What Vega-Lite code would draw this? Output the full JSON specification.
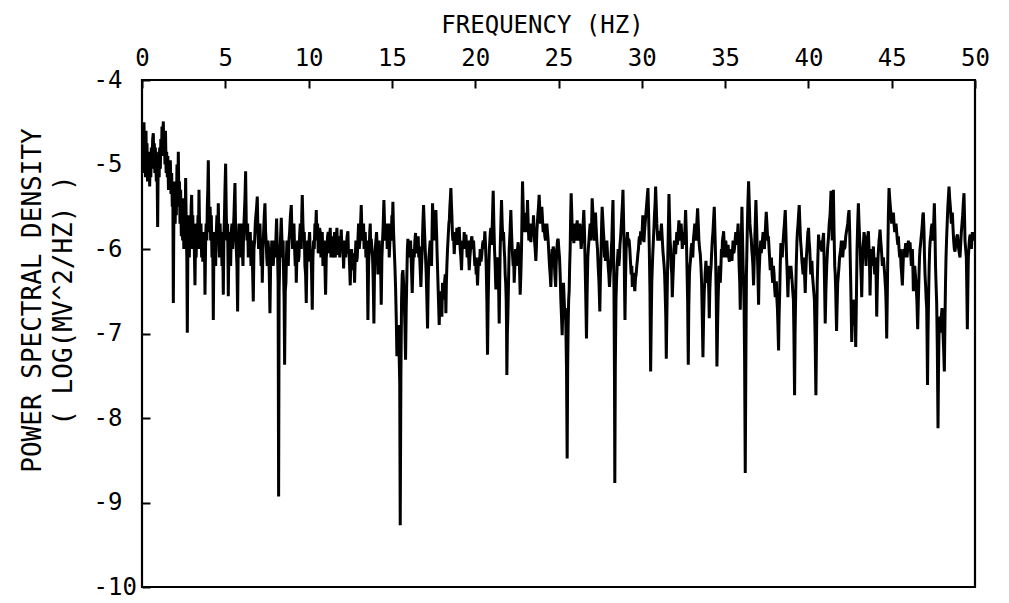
{
  "$schema": "https://vega.github.io/schema/vega-lite/v6.json",
  "width": 833,
  "height": 507,
  "autosize": {"type": "none"},
  "padding": {"left": 142, "top": 80, "right": 34, "bottom": 16},
  "background": "white",
  "config": {
    "view": {"stroke": "black", "strokeWidth": 2.2},
    "font": "DejaVu Sans Mono"
  },
  "data": {
    "values": [
      {"f":0.00,"p":-4.55},{"f":0.03,"p":-5.05},{"f":0.06,"p":-4.6},{"f":0.09,"p":-5.1},{"f":0.12,"p":-4.5},{"f":0.15,"p":-4.95},
      {"f":0.18,"p":-4.7},{"f":0.21,"p":-5.15},{"f":0.24,"p":-4.6},{"f":0.27,"p":-5.1},{"f":0.30,"p":-4.75},{"f":0.33,"p":-5.2},
      {"f":0.36,"p":-4.85},{"f":0.40,"p":-5.15},{"f":0.43,"p":-4.9},{"f":0.46,"p":-5.26},{"f":0.50,"p":-4.85},{"f":0.53,"p":-5.15},
      {"f":0.56,"p":-4.8},{"f":0.60,"p":-5.05},{"f":0.64,"p":-4.7},{"f":0.68,"p":-4.63},{"f":0.71,"p":-5.0},{"f":0.74,"p":-4.75},
      {"f":0.77,"p":-5.1},{"f":0.80,"p":-4.8},{"f":0.83,"p":-5.0},{"f":0.86,"p":-5.2},{"f":0.90,"p":-4.95},{"f":0.94,"p":-5.74},
      {"f":0.97,"p":-5.0},{"f":1.00,"p":-4.85},{"f":1.03,"p":-5.15},{"f":1.06,"p":-4.8},{"f":1.10,"p":-5.05},{"f":1.13,"p":-4.7},
      {"f":1.17,"p":-4.9},{"f":1.20,"p":-4.55},{"f":1.24,"p":-4.7},{"f":1.28,"p":-4.49},{"f":1.31,"p":-4.9},{"f":1.34,"p":-4.65},
      {"f":1.38,"p":-5.0},{"f":1.41,"p":-4.6},{"f":1.45,"p":-5.1},{"f":1.48,"p":-4.85},{"f":1.52,"p":-5.15},{"f":1.55,"p":-4.9},
      {"f":1.59,"p":-5.3},{"f":1.62,"p":-5.0},{"f":1.66,"p":-5.25},{"f":1.70,"p":-4.95},{"f":1.74,"p":-5.35},{"f":1.78,"p":-5.1},
      {"f":1.82,"p":-5.5},{"f":1.85,"p":-5.2},{"f":1.88,"p":-6.64},{"f":1.92,"p":-5.4},{"f":1.95,"p":-5.2},{"f":1.99,"p":-5.7},
      {"f":2.02,"p":-5.3},{"f":2.06,"p":-5.6},{"f":2.10,"p":-5.0},{"f":2.14,"p":-5.5},{"f":2.18,"p":-4.85},{"f":2.21,"p":-5.4},
      {"f":2.25,"p":-5.2},{"f":2.28,"p":-5.7},{"f":2.32,"p":-5.3},{"f":2.36,"p":-5.85},{"f":2.40,"p":-5.5},{"f":2.44,"p":-5.9},
      {"f":2.47,"p":-5.4},{"f":2.51,"p":-6.0},{"f":2.55,"p":-5.6},{"f":2.58,"p":-5.9},{"f":2.62,"p":-5.16},{"f":2.66,"p":-5.8},
      {"f":2.69,"p":-6.1},{"f":2.72,"p":-6.99},{"f":2.76,"p":-5.8},{"f":2.80,"p":-5.6},{"f":2.84,"p":-6.1},{"f":2.88,"p":-5.7},
      {"f":2.92,"p":-6.0},{"f":2.95,"p":-5.5},{"f":2.98,"p":-5.36},{"f":3.02,"p":-5.9},{"f":3.05,"p":-5.6},{"f":3.09,"p":-6.0},
      {"f":3.12,"p":-5.7},{"f":3.15,"p":-6.1},{"f":3.18,"p":-6.43},{"f":3.22,"p":-5.8},{"f":3.25,"p":-6.1},{"f":3.29,"p":-5.7},
      {"f":3.32,"p":-6.0},{"f":3.36,"p":-5.6},{"f":3.39,"p":-5.9},{"f":3.42,"p":-5.3},{"f":3.46,"p":-5.8},{"f":3.50,"p":-6.0},
      {"f":3.54,"p":-5.7},{"f":3.58,"p":-6.1},{"f":3.62,"p":-5.8},{"f":3.65,"p":-6.15},{"f":3.69,"p":-5.8},{"f":3.72,"p":-6.0},
      {"f":3.75,"p":-5.9},{"f":3.78,"p":-6.54},{"f":3.82,"p":-5.9},{"f":3.85,"p":-5.7},{"f":3.89,"p":-5.9},{"f":3.92,"p":-5.5},
      {"f":3.95,"p":-5.3},{"f":3.98,"p":-4.95},{"f":4.02,"p":-5.6},{"f":4.05,"p":-5.8},{"f":4.09,"p":-5.5},{"f":4.12,"p":-5.9},
      {"f":4.16,"p":-5.6},{"f":4.20,"p":-6.1},{"f":4.24,"p":-5.8},{"f":4.28,"p":-6.84},{"f":4.32,"p":-5.9},{"f":4.35,"p":-6.1},
      {"f":4.39,"p":-5.8},{"f":4.42,"p":-6.2},{"f":4.46,"p":-5.8},{"f":4.50,"p":-5.6},{"f":4.54,"p":-5.9},{"f":4.58,"p":-5.46},
      {"f":4.62,"p":-5.9},{"f":4.65,"p":-6.1},{"f":4.69,"p":-5.7},{"f":4.72,"p":-6.0},{"f":4.76,"p":-5.8},{"f":4.80,"p":-6.2},
      {"f":4.84,"p":-5.9},{"f":4.88,"p":-6.54},{"f":4.92,"p":-5.8},{"f":4.95,"p":-5.6},{"f":4.98,"p":-5.3},{"f":5.02,"p":-4.99},
      {"f":5.06,"p":-5.6},{"f":5.10,"p":-5.9},{"f":5.14,"p":-5.7},{"f":5.18,"p":-6.56},{"f":5.22,"p":-5.9},{"f":5.25,"p":-6.1},
      {"f":5.29,"p":-5.8},{"f":5.32,"p":-6.2},{"f":5.36,"p":-5.8},{"f":5.40,"p":-5.7},{"f":5.44,"p":-6.0},{"f":5.48,"p":-5.8},
      {"f":5.52,"p":-5.6},{"f":5.55,"p":-5.4},{"f":5.58,"p":-5.22},{"f":5.62,"p":-5.8},{"f":5.66,"p":-6.0},{"f":5.70,"p":-6.2},
      {"f":5.74,"p":-6.74},{"f":5.78,"p":-5.9},{"f":5.82,"p":-5.7},{"f":5.86,"p":-6.0},{"f":5.90,"p":-5.8},{"f":5.94,"p":-6.1},
      {"f":5.98,"p":-5.7},{"f":6.02,"p":-6.0},{"f":6.06,"p":-6.2},{"f":6.10,"p":-5.8},{"f":6.14,"p":-5.6},{"f":6.18,"p":-5.4},
      {"f":6.22,"p":-5.08},{"f":6.26,"p":-5.7},{"f":6.30,"p":-5.9},{"f":6.34,"p":-5.7},{"f":6.38,"p":-6.1},{"f":6.42,"p":-5.8},
      {"f":6.46,"p":-6.0},{"f":6.50,"p":-5.8},{"f":6.54,"p":-6.2},{"f":6.58,"p":-5.9},{"f":6.62,"p":-6.1},{"f":6.68,"p":-6.62},
      {"f":6.72,"p":-6.0},{"f":6.76,"p":-5.9},{"f":6.80,"p":-5.7},{"f":6.84,"p":-5.6},{"f":6.88,"p":-5.5},{"f":6.92,"p":-5.38},
      {"f":6.96,"p":-5.8},{"f":7.00,"p":-6.0},{"f":7.04,"p":-5.8},{"f":7.08,"p":-5.7},{"f":7.12,"p":-6.0},{"f":7.15,"p":-6.2},
      {"f":7.19,"p":-5.9},{"f":7.22,"p":-6.4},{"f":7.26,"p":-6.0},{"f":7.30,"p":-5.8},{"f":7.34,"p":-5.6},{"f":7.38,"p":-5.46},
      {"f":7.42,"p":-5.8},{"f":7.45,"p":-5.9},{"f":7.49,"p":-6.1},{"f":7.52,"p":-6.2},{"f":7.56,"p":-5.9},{"f":7.60,"p":-6.0},
      {"f":7.64,"p":-6.3},{"f":7.68,"p":-6.76},{"f":7.72,"p":-6.2},{"f":7.76,"p":-6.1},{"f":7.79,"p":-5.9},{"f":7.82,"p":-5.97},
      {"f":7.85,"p":-6.1},{"f":7.88,"p":-6.2},{"f":7.92,"p":-6.0},{"f":7.95,"p":-5.9},{"f":7.98,"p":-6.1},{"f":8.02,"p":-6.0},
      {"f":8.05,"p":-5.8},{"f":8.08,"p":-5.64},{"f":8.11,"p":-5.9},{"f":8.14,"p":-6.1},{"f":8.17,"p":-6.4},{"f":8.20,"p":-8.93},
      {"f":8.23,"p":-6.5},{"f":8.26,"p":-6.2},{"f":8.31,"p":-5.9},{"f":8.36,"p":-5.63},{"f":8.40,"p":-5.9},{"f":8.44,"p":-6.1},
      {"f":8.47,"p":-5.9},{"f":8.50,"p":-6.3},{"f":8.53,"p":-6.6},{"f":8.56,"p":-7.37},{"f":8.60,"p":-6.5},{"f":8.64,"p":-6.4},
      {"f":8.67,"p":-6.1},{"f":8.70,"p":-5.9},{"f":8.74,"p":-6.1},{"f":8.78,"p":-6.2},{"f":8.82,"p":-5.9},{"f":8.86,"p":-5.8},
      {"f":8.91,"p":-5.6},{"f":8.96,"p":-5.48},{"f":9.00,"p":-5.8},{"f":9.04,"p":-6.0},{"f":9.08,"p":-5.8},{"f":9.12,"p":-5.7},
      {"f":9.16,"p":-6.0},{"f":9.20,"p":-6.2},{"f":9.23,"p":-6.0},{"f":9.26,"p":-6.4},{"f":9.30,"p":-6.1},{"f":9.34,"p":-5.9},
      {"f":9.38,"p":-6.15},{"f":9.42,"p":-6.1},{"f":9.46,"p":-5.85},{"f":9.50,"p":-5.7},{"f":9.53,"p":-5.9},{"f":9.56,"p":-6.0},
      {"f":9.59,"p":-5.6},{"f":9.62,"p":-5.36},{"f":9.66,"p":-5.7},{"f":9.70,"p":-5.9},{"f":9.74,"p":-5.8},{"f":9.78,"p":-6.2},
      {"f":9.82,"p":-6.3},{"f":9.86,"p":-6.64},{"f":9.90,"p":-6.1},{"f":9.94,"p":-5.9},{"f":9.97,"p":-6.15},{"f":10.00,"p":-6.1},
      {"f":10.03,"p":-5.9},{"f":10.06,"p":-5.8},{"f":10.10,"p":-6.05},{"f":10.14,"p":-6.0},{"f":10.18,"p":-6.3},{"f":10.22,"p":-6.72},
      {"f":10.26,"p":-6.1},{"f":10.30,"p":-5.9},{"f":10.34,"p":-6.0},{"f":10.38,"p":-5.7},{"f":10.42,"p":-5.8},{"f":10.46,"p":-5.54},
      {"f":10.50,"p":-5.9},{"f":10.54,"p":-5.7},{"f":10.58,"p":-6.05},{"f":10.62,"p":-6.0},{"f":10.66,"p":-5.75},{"f":10.70,"p":-5.8},
      {"f":10.74,"p":-6.1},{"f":10.78,"p":-5.97},{"f":10.82,"p":-5.8},{"f":10.86,"p":-6.2},{"f":10.90,"p":-5.95},{"f":10.94,"p":-5.9},
      {"f":10.98,"p":-6.2},{"f":11.02,"p":-6.54},{"f":11.06,"p":-6.1},{"f":11.10,"p":-6.0},{"f":11.14,"p":-5.85},{"f":11.18,"p":-5.8},
      {"f":11.22,"p":-6.05},{"f":11.26,"p":-5.88},{"f":11.30,"p":-5.75},{"f":11.34,"p":-6.1},{"f":11.38,"p":-5.95},{"f":11.42,"p":-5.85},
      {"f":11.46,"p":-6.1},{"f":11.50,"p":-6.05},{"f":11.53,"p":-5.9},{"f":11.56,"p":-5.8},{"f":11.60,"p":-6.1},{"f":11.64,"p":-6.0},
      {"f":11.67,"p":-5.85},{"f":11.70,"p":-5.75},{"f":11.73,"p":-5.95},{"f":11.76,"p":-6.07},{"f":11.80,"p":-5.85},{"f":11.84,"p":-5.9},
      {"f":11.87,"p":-6.1},{"f":11.90,"p":-6.0},{"f":11.93,"p":-5.9},{"f":11.96,"p":-5.77},{"f":12.00,"p":-6.0},{"f":12.04,"p":-5.9},
      {"f":12.07,"p":-6.0},{"f":12.10,"p":-6.23},{"f":12.14,"p":-6.0},{"f":12.18,"p":-5.9},{"f":12.22,"p":-6.1},{"f":12.26,"p":-6.0},
      {"f":12.31,"p":-5.85},{"f":12.36,"p":-5.79},{"f":12.39,"p":-6.05},{"f":12.42,"p":-6.0},{"f":12.46,"p":-6.2},{"f":12.50,"p":-6.43},
      {"f":12.54,"p":-6.1},{"f":12.58,"p":-6.0},{"f":12.62,"p":-6.25},{"f":12.66,"p":-6.2},{"f":12.71,"p":-6.05},{"f":12.76,"p":-6.4},
      {"f":12.80,"p":-6.1},{"f":12.84,"p":-5.9},{"f":12.88,"p":-6.15},{"f":12.92,"p":-6.1},{"f":12.96,"p":-5.9},{"f":13.00,"p":-5.7},
      {"f":13.04,"p":-6.0},{"f":13.08,"p":-5.9},{"f":13.12,"p":-5.7},{"f":13.16,"p":-5.48},{"f":13.20,"p":-5.8},{"f":13.24,"p":-5.9},
      {"f":13.27,"p":-5.75},{"f":13.30,"p":-5.7},{"f":13.33,"p":-6.0},{"f":13.36,"p":-5.93},{"f":13.40,"p":-5.8},{"f":13.44,"p":-6.1},
      {"f":13.47,"p":-6.0},{"f":13.50,"p":-5.9},{"f":13.53,"p":-6.3},{"f":13.56,"p":-6.84},{"f":13.60,"p":-6.2},{"f":13.64,"p":-6.0},
      {"f":13.67,"p":-5.8},{"f":13.70,"p":-5.7},{"f":13.73,"p":-6.0},{"f":13.76,"p":-5.88},{"f":13.80,"p":-6.0},{"f":13.84,"p":-6.1},
      {"f":13.88,"p":-6.4},{"f":13.92,"p":-6.88},{"f":13.96,"p":-6.2},{"f":14.00,"p":-6.0},{"f":14.04,"p":-5.9},{"f":14.08,"p":-5.8},
      {"f":14.12,"p":-6.0},{"f":14.16,"p":-6.3},{"f":14.20,"p":-6.0},{"f":14.24,"p":-5.9},{"f":14.27,"p":-6.2},{"f":14.30,"p":-6.1},
      {"f":14.33,"p":-6.3},{"f":14.36,"p":-6.66},{"f":14.40,"p":-6.1},{"f":14.44,"p":-5.9},{"f":14.48,"p":-5.7},{"f":14.52,"p":-5.42},
      {"f":14.56,"p":-5.7},{"f":14.60,"p":-5.9},{"f":14.64,"p":-5.75},{"f":14.68,"p":-5.7},{"f":14.72,"p":-6.0},{"f":14.76,"p":-5.88},
      {"f":14.80,"p":-5.7},{"f":14.84,"p":-6.1},{"f":14.88,"p":-5.9},{"f":14.92,"p":-5.8},{"f":14.96,"p":-5.9},{"f":15.00,"p":-5.6},
      {"f":15.03,"p":-5.7},{"f":15.06,"p":-5.44},{"f":15.10,"p":-5.8},{"f":15.14,"p":-6.0},{"f":15.18,"p":-6.2},{"f":15.22,"p":-6.45},
      {"f":15.26,"p":-6.8},{"f":15.30,"p":-7.27},{"f":15.33,"p":-7.0},{"f":15.36,"p":-7.2},{"f":15.40,"p":-6.9},{"f":15.44,"p":-7.3},
      {"f":15.47,"p":-7.6},{"f":15.50,"p":-9.27},{"f":15.54,"p":-7.5},{"f":15.58,"p":-6.6},{"f":15.62,"p":-6.3},{"f":15.66,"p":-6.25},
      {"f":15.70,"p":-6.4},{"f":15.74,"p":-6.6},{"f":15.78,"p":-6.9},{"f":15.82,"p":-7.31},{"f":15.86,"p":-6.7},{"f":15.90,"p":-6.3},
      {"f":15.93,"p":-6.0},{"f":15.96,"p":-5.88},{"f":16.00,"p":-6.0},{"f":16.04,"p":-6.1},{"f":16.08,"p":-5.95},{"f":16.12,"p":-5.9},
      {"f":16.17,"p":-6.2},{"f":16.22,"p":-6.52},{"f":16.26,"p":-6.2},{"f":16.30,"p":-6.0},{"f":16.34,"p":-6.1},{"f":16.38,"p":-5.9},
      {"f":16.42,"p":-5.81},{"f":16.46,"p":-6.05},{"f":16.50,"p":-6.0},{"f":16.54,"p":-5.9},{"f":16.58,"p":-5.85},{"f":16.61,"p":-6.1},
      {"f":16.64,"p":-5.97},{"f":16.69,"p":-6.2},{"f":16.74,"p":-6.45},{"f":16.78,"p":-6.2},{"f":16.82,"p":-6.0},{"f":16.86,"p":-5.7},
      {"f":16.90,"p":-5.48},{"f":16.94,"p":-5.7},{"f":16.98,"p":-5.9},{"f":17.02,"p":-6.1},{"f":17.06,"p":-6.3},{"f":17.10,"p":-6.6},
      {"f":17.14,"p":-6.94},{"f":17.18,"p":-6.4},{"f":17.22,"p":-6.1},{"f":17.26,"p":-6.0},{"f":17.30,"p":-5.9},{"f":17.34,"p":-6.1},
      {"f":17.38,"p":-6.2},{"f":17.41,"p":-5.8},{"f":17.44,"p":-5.46},{"f":17.48,"p":-5.7},{"f":17.52,"p":-5.9},{"f":17.55,"p":-5.7},
      {"f":17.58,"p":-5.6},{"f":17.61,"p":-5.75},{"f":17.64,"p":-5.54},{"f":17.68,"p":-5.8},{"f":17.72,"p":-6.1},{"f":17.75,"p":-6.3},
      {"f":17.78,"p":-6.5},{"f":17.81,"p":-6.7},{"f":17.84,"p":-6.9},{"f":17.88,"p":-6.6},{"f":17.92,"p":-6.5},{"f":17.96,"p":-6.7},
      {"f":18.00,"p":-6.8},{"f":18.04,"p":-6.4},{"f":18.08,"p":-6.5},{"f":18.12,"p":-6.6},{"f":18.16,"p":-6.4},{"f":18.20,"p":-6.3},
      {"f":18.24,"p":-6.76},{"f":18.27,"p":-6.4},{"f":18.30,"p":-6.2},{"f":18.34,"p":-6.0},{"f":18.38,"p":-5.85},{"f":18.42,"p":-5.7},
      {"f":18.45,"p":-5.65},{"f":18.48,"p":-5.5},{"f":18.51,"p":-5.4},{"f":18.54,"p":-5.28},{"f":18.57,"p":-5.45},{"f":18.60,"p":-5.6},
      {"f":18.63,"p":-5.8},{"f":18.66,"p":-5.9},{"f":18.70,"p":-5.8},{"f":18.74,"p":-6.06},{"f":18.78,"p":-5.9},{"f":18.82,"p":-5.8},
      {"f":18.86,"p":-5.9},{"f":18.90,"p":-5.75},{"f":18.93,"p":-5.95},{"f":18.96,"p":-5.9},{"f":19.00,"p":-5.8},{"f":19.04,"p":-5.74},
      {"f":19.07,"p":-5.9},{"f":19.10,"p":-6.0},{"f":19.14,"p":-6.1},{"f":19.18,"p":-6.25},{"f":19.22,"p":-6.0},{"f":19.26,"p":-5.9},
      {"f":19.30,"p":-6.0},{"f":19.34,"p":-5.8},{"f":19.39,"p":-6.0},{"f":19.44,"p":-5.83},{"f":19.48,"p":-5.95},{"f":19.52,"p":-6.1},
      {"f":19.55,"p":-6.0},{"f":19.58,"p":-5.9},{"f":19.61,"p":-6.1},{"f":19.64,"p":-6.25},{"f":19.68,"p":-6.1},{"f":19.72,"p":-6.0},
      {"f":19.76,"p":-5.9},{"f":19.80,"p":-5.85},{"f":19.85,"p":-6.0},{"f":19.90,"p":-5.9},{"f":19.94,"p":-6.05},{"f":19.98,"p":-6.2},
      {"f":20.02,"p":-6.1},{"f":20.06,"p":-6.3},{"f":20.10,"p":-6.2},{"f":20.14,"p":-6.43},{"f":20.18,"p":-6.2},{"f":20.22,"p":-6.1},
      {"f":20.26,"p":-6.2},{"f":20.30,"p":-6.0},{"f":20.35,"p":-6.15},{"f":20.40,"p":-6.06},{"f":20.44,"p":-5.95},{"f":20.48,"p":-5.9},
      {"f":20.53,"p":-6.0},{"f":20.58,"p":-5.79},{"f":20.62,"p":-5.95},{"f":20.66,"p":-6.2},{"f":20.70,"p":-6.6},{"f":20.74,"p":-7.25},
      {"f":20.78,"p":-6.6},{"f":20.82,"p":-6.2},{"f":20.85,"p":-6.0},{"f":20.88,"p":-5.9},{"f":20.91,"p":-5.8},{"f":20.94,"p":-5.75},
      {"f":20.97,"p":-5.95},{"f":21.00,"p":-5.9},{"f":21.04,"p":-5.6},{"f":21.08,"p":-5.31},{"f":21.12,"p":-5.7},{"f":21.16,"p":-6.0},
      {"f":21.20,"p":-6.2},{"f":21.24,"p":-6.48},{"f":21.28,"p":-6.2},{"f":21.32,"p":-6.1},{"f":21.35,"p":-6.2},{"f":21.38,"p":-6.3},
      {"f":21.41,"p":-6.5},{"f":21.44,"p":-6.88},{"f":21.47,"p":-6.4},{"f":21.50,"p":-6.0},{"f":21.54,"p":-5.7},{"f":21.58,"p":-5.42},
      {"f":21.62,"p":-5.7},{"f":21.66,"p":-5.9},{"f":21.70,"p":-5.8},{"f":21.74,"p":-6.0},{"f":21.77,"p":-6.1},{"f":21.80,"p":-6.3},
      {"f":21.83,"p":-6.4},{"f":21.86,"p":-6.6},{"f":21.88,"p":-6.9},{"f":21.90,"p":-7.49},{"f":21.93,"p":-7.0},{"f":21.96,"p":-6.8},
      {"f":22.00,"p":-6.4},{"f":22.04,"p":-6.0},{"f":22.09,"p":-5.8},{"f":22.14,"p":-5.54},{"f":22.18,"p":-5.8},{"f":22.22,"p":-6.0},
      {"f":22.25,"p":-6.1},{"f":22.28,"p":-6.2},{"f":22.31,"p":-6.1},{"f":22.34,"p":-6.4},{"f":22.38,"p":-6.2},{"f":22.42,"p":-6.0},
      {"f":22.46,"p":-6.1},{"f":22.50,"p":-6.2},{"f":22.54,"p":-6.0},{"f":22.58,"p":-5.92},{"f":22.61,"p":-6.0},{"f":22.64,"p":-6.1},
      {"f":22.67,"p":-6.3},{"f":22.70,"p":-6.54},{"f":22.74,"p":-6.3},{"f":22.78,"p":-6.0},{"f":22.81,"p":-5.6},{"f":22.84,"p":-5.2},
      {"f":22.88,"p":-5.5},{"f":22.92,"p":-5.8},{"f":22.95,"p":-5.7},{"f":22.98,"p":-5.6},{"f":23.01,"p":-5.8},{"f":23.04,"p":-5.57},
      {"f":23.07,"p":-5.7},{"f":23.10,"p":-5.8},{"f":23.12,"p":-5.6},{"f":23.14,"p":-5.42},{"f":23.18,"p":-5.7},{"f":23.22,"p":-5.9},
      {"f":23.25,"p":-5.8},{"f":23.28,"p":-5.7},{"f":23.31,"p":-5.85},{"f":23.34,"p":-5.92},{"f":23.38,"p":-5.8},{"f":23.42,"p":-5.7},
      {"f":23.46,"p":-5.8},{"f":23.50,"p":-5.6},{"f":23.53,"p":-5.75},{"f":23.56,"p":-5.9},{"f":23.60,"p":-6.0},{"f":23.64,"p":-6.14},
      {"f":23.67,"p":-6.0},{"f":23.70,"p":-5.8},{"f":23.73,"p":-5.7},{"f":23.76,"p":-5.6},{"f":23.80,"p":-5.5},{"f":23.84,"p":-5.36},
      {"f":23.88,"p":-5.55},{"f":23.92,"p":-5.7},{"f":23.96,"p":-5.6},{"f":24.00,"p":-5.5},{"f":24.04,"p":-5.65},{"f":24.08,"p":-5.8},
      {"f":24.11,"p":-5.7},{"f":24.14,"p":-5.75},{"f":24.18,"p":-5.85},{"f":24.22,"p":-5.9},{"f":24.26,"p":-5.8},{"f":24.30,"p":-5.7},
      {"f":24.34,"p":-5.8},{"f":24.38,"p":-5.9},{"f":24.42,"p":-6.05},{"f":24.46,"p":-6.2},{"f":24.50,"p":-6.3},{"f":24.54,"p":-6.45},
      {"f":24.58,"p":-6.2},{"f":24.62,"p":-6.0},{"f":24.65,"p":-6.1},{"f":24.68,"p":-5.97},{"f":24.71,"p":-6.0},{"f":24.74,"p":-6.1},
      {"f":24.78,"p":-6.3},{"f":24.83,"p":-6.45},{"f":24.86,"p":-6.2},{"f":24.90,"p":-6.0},{"f":24.94,"p":-5.9},{"f":24.98,"p":-5.88},
      {"f":25.02,"p":-6.0},{"f":25.06,"p":-6.1},{"f":25.10,"p":-6.3},{"f":25.14,"p":-6.6},{"f":25.18,"p":-6.8},{"f":25.22,"p":-7.02},
      {"f":25.26,"p":-6.7},{"f":25.30,"p":-6.4},{"f":25.34,"p":-6.6},{"f":25.38,"p":-6.8},{"f":25.41,"p":-6.7},{"f":25.44,"p":-6.9},
      {"f":25.48,"p":-7.4},{"f":25.52,"p":-8.48},{"f":25.55,"p":-7.4},{"f":25.58,"p":-6.9},{"f":25.61,"p":-6.6},{"f":25.64,"p":-6.5},
      {"f":25.67,"p":-6.2},{"f":25.70,"p":-6.0},{"f":25.73,"p":-5.6},{"f":25.76,"p":-5.34},{"f":25.80,"p":-5.6},{"f":25.84,"p":-5.9},
      {"f":25.88,"p":-5.75},{"f":25.92,"p":-5.93},{"f":25.96,"p":-5.8},{"f":26.00,"p":-5.7},{"f":26.03,"p":-5.9},{"f":26.06,"p":-5.8},
      {"f":26.09,"p":-5.75},{"f":26.12,"p":-5.66},{"f":26.16,"p":-5.8},{"f":26.20,"p":-5.9},{"f":26.24,"p":-5.8},{"f":26.28,"p":-5.7},
      {"f":26.32,"p":-5.85},{"f":26.36,"p":-6.0},{"f":26.40,"p":-5.9},{"f":26.44,"p":-5.8},{"f":26.48,"p":-5.7},{"f":26.52,"p":-5.54},
      {"f":26.56,"p":-5.8},{"f":26.60,"p":-6.2},{"f":26.64,"p":-6.6},{"f":26.68,"p":-7.06},{"f":26.72,"p":-6.5},{"f":26.76,"p":-6.1},
      {"f":26.79,"p":-6.0},{"f":26.82,"p":-5.92},{"f":26.86,"p":-5.8},{"f":26.90,"p":-5.7},{"f":26.93,"p":-5.85},{"f":26.96,"p":-5.9},
      {"f":26.99,"p":-5.7},{"f":27.02,"p":-5.4},{"f":27.06,"p":-5.55},{"f":27.10,"p":-5.7},{"f":27.13,"p":-5.8},{"f":27.16,"p":-5.9},
      {"f":27.19,"p":-5.7},{"f":27.22,"p":-5.57},{"f":27.26,"p":-5.75},{"f":27.30,"p":-5.9},{"f":27.34,"p":-6.0},{"f":27.38,"p":-6.2},
      {"f":27.43,"p":-6.4},{"f":27.48,"p":-6.74},{"f":27.52,"p":-6.3},{"f":27.56,"p":-6.0},{"f":27.59,"p":-5.7},{"f":27.62,"p":-5.5},
      {"f":27.66,"p":-5.65},{"f":27.70,"p":-5.8},{"f":27.73,"p":-5.9},{"f":27.76,"p":-6.1},{"f":27.79,"p":-6.0},{"f":27.82,"p":-6.14},
      {"f":27.86,"p":-6.0},{"f":27.90,"p":-5.9},{"f":27.94,"p":-6.05},{"f":27.98,"p":-6.2},{"f":28.02,"p":-6.3},{"f":28.06,"p":-6.45},
      {"f":28.10,"p":-6.3},{"f":28.14,"p":-6.2},{"f":28.17,"p":-6.0},{"f":28.20,"p":-5.9},{"f":28.24,"p":-5.6},{"f":28.27,"p":-5.42},
      {"f":28.30,"p":-5.9},{"f":28.33,"p":-6.5},{"f":28.36,"p":-7.5},{"f":28.38,"p":-8.77},{"f":28.41,"p":-7.4},{"f":28.45,"p":-6.6},
      {"f":28.48,"p":-6.4},{"f":28.52,"p":-6.2},{"f":28.55,"p":-6.1},{"f":28.58,"p":-6.0},{"f":28.62,"p":-6.2},{"f":28.66,"p":-6.1},
      {"f":28.69,"p":-5.95},{"f":28.72,"p":-5.88},{"f":28.76,"p":-5.75},{"f":28.80,"p":-5.6},{"f":28.84,"p":-5.45},{"f":28.87,"p":-5.3},
      {"f":28.90,"p":-5.6},{"f":28.94,"p":-6.0},{"f":28.96,"p":-6.4},{"f":28.99,"p":-6.84},{"f":29.02,"p":-6.4},{"f":29.06,"p":-6.0},
      {"f":29.10,"p":-5.9},{"f":29.14,"p":-5.8},{"f":29.17,"p":-5.95},{"f":29.20,"p":-5.88},{"f":29.24,"p":-5.9},{"f":29.28,"p":-6.0},
      {"f":29.32,"p":-6.15},{"f":29.36,"p":-6.3},{"f":29.40,"p":-6.2},{"f":29.43,"p":-6.45},{"f":29.47,"p":-6.3},{"f":29.50,"p":-6.3},
      {"f":29.54,"p":-6.4},{"f":29.58,"p":-6.5},{"f":29.62,"p":-6.35},{"f":29.66,"p":-6.3},{"f":29.70,"p":-6.2},{"f":29.73,"p":-6.14},
      {"f":29.77,"p":-6.05},{"f":29.80,"p":-6.0},{"f":29.83,"p":-5.9},{"f":29.86,"p":-5.85},{"f":29.90,"p":-5.95},{"f":29.93,"p":-5.79},
      {"f":29.96,"p":-5.85},{"f":30.00,"p":-5.9},{"f":30.03,"p":-5.75},{"f":30.06,"p":-5.6},{"f":30.10,"p":-5.8},{"f":30.13,"p":-5.92},
      {"f":30.16,"p":-5.8},{"f":30.20,"p":-5.7},{"f":30.24,"p":-5.6},{"f":30.28,"p":-5.5},{"f":30.32,"p":-5.4},{"f":30.37,"p":-5.28},
      {"f":30.41,"p":-5.6},{"f":30.45,"p":-6.0},{"f":30.49,"p":-6.5},{"f":30.53,"p":-7.45},{"f":30.57,"p":-6.8},{"f":30.60,"p":-6.4},
      {"f":30.65,"p":-6.1},{"f":30.70,"p":-5.88},{"f":30.73,"p":-5.75},{"f":30.76,"p":-5.6},{"f":30.80,"p":-5.45},{"f":30.83,"p":-5.26},
      {"f":30.87,"p":-5.5},{"f":30.90,"p":-5.7},{"f":30.93,"p":-5.8},{"f":30.96,"p":-5.9},{"f":31.00,"p":-5.85},{"f":31.03,"p":-5.79},
      {"f":31.06,"p":-5.85},{"f":31.10,"p":-5.9},{"f":31.14,"p":-5.8},{"f":31.18,"p":-5.7},{"f":31.22,"p":-5.85},{"f":31.27,"p":-6.03},
      {"f":31.30,"p":-6.1},{"f":31.34,"p":-6.2},{"f":31.37,"p":-6.3},{"f":31.40,"p":-6.5},{"f":31.44,"p":-6.8},{"f":31.47,"p":-7.3},
      {"f":31.51,"p":-6.7},{"f":31.55,"p":-6.2},{"f":31.59,"p":-5.8},{"f":31.63,"p":-5.35},{"f":31.66,"p":-5.6},{"f":31.70,"p":-5.9},
      {"f":31.73,"p":-6.0},{"f":31.76,"p":-6.2},{"f":31.80,"p":-6.3},{"f":31.83,"p":-6.57},{"f":31.86,"p":-6.4},{"f":31.90,"p":-6.2},
      {"f":31.93,"p":-6.0},{"f":31.96,"p":-5.9},{"f":32.00,"p":-6.0},{"f":32.03,"p":-6.06},{"f":32.06,"p":-5.95},{"f":32.10,"p":-5.8},
      {"f":32.13,"p":-5.95},{"f":32.16,"p":-5.9},{"f":32.20,"p":-5.75},{"f":32.23,"p":-5.66},{"f":32.26,"p":-5.8},{"f":32.30,"p":-5.9},
      {"f":32.33,"p":-5.8},{"f":32.36,"p":-5.7},{"f":32.40,"p":-5.85},{"f":32.43,"p":-6.0},{"f":32.46,"p":-5.9},{"f":32.50,"p":-5.8},
      {"f":32.53,"p":-5.95},{"f":32.56,"p":-5.9},{"f":32.60,"p":-5.7},{"f":32.63,"p":-5.54},{"f":32.67,"p":-5.8},{"f":32.71,"p":-6.2},
      {"f":32.75,"p":-6.6},{"f":32.79,"p":-7.37},{"f":32.82,"p":-6.7},{"f":32.86,"p":-6.3},{"f":32.89,"p":-6.2},{"f":32.92,"p":-6.14},
      {"f":32.96,"p":-6.0},{"f":33.00,"p":-5.93},{"f":33.03,"p":-6.05},{"f":33.06,"p":-6.1},{"f":33.08,"p":-6.0},{"f":33.10,"p":-5.88},
      {"f":33.14,"p":-5.8},{"f":33.18,"p":-5.7},{"f":33.22,"p":-5.8},{"f":33.26,"p":-5.9},{"f":33.30,"p":-5.7},{"f":33.35,"p":-5.52},
      {"f":33.39,"p":-5.7},{"f":33.43,"p":-5.9},{"f":33.47,"p":-6.0},{"f":33.51,"p":-6.06},{"f":33.55,"p":-6.2},{"f":33.59,"p":-6.4},
      {"f":33.63,"p":-6.8},{"f":33.67,"p":-7.28},{"f":33.71,"p":-6.8},{"f":33.75,"p":-6.5},{"f":33.78,"p":-6.4},{"f":33.80,"p":-6.3},
      {"f":33.83,"p":-6.2},{"f":33.85,"p":-6.14},{"f":33.89,"p":-6.3},{"f":33.92,"p":-6.4},{"f":33.95,"p":-6.3},{"f":33.98,"p":-6.2},
      {"f":34.02,"p":-6.5},{"f":34.05,"p":-6.82},{"f":34.08,"p":-6.5},{"f":34.12,"p":-6.3},{"f":34.16,"p":-6.2},{"f":34.19,"p":-6.06},
      {"f":34.23,"p":-5.9},{"f":34.27,"p":-5.8},{"f":34.31,"p":-5.65},{"f":34.35,"p":-5.5},{"f":34.39,"p":-5.8},{"f":34.43,"p":-6.1},
      {"f":34.47,"p":-6.6},{"f":34.51,"p":-7.39},{"f":34.55,"p":-6.9},{"f":34.58,"p":-6.6},{"f":34.61,"p":-6.4},{"f":34.64,"p":-6.2},
      {"f":34.68,"p":-6.3},{"f":34.71,"p":-6.4},{"f":34.75,"p":-6.2},{"f":34.78,"p":-6.0},{"f":34.81,"p":-6.1},{"f":34.84,"p":-5.9},
      {"f":34.88,"p":-5.85},{"f":34.91,"p":-5.79},{"f":34.95,"p":-5.95},{"f":34.98,"p":-6.1},{"f":35.01,"p":-6.0},{"f":35.04,"p":-5.9},
      {"f":35.08,"p":-6.0},{"f":35.11,"p":-6.1},{"f":35.15,"p":-6.0},{"f":35.18,"p":-5.95},{"f":35.22,"p":-6.1},{"f":35.26,"p":-6.15},
      {"f":35.30,"p":-6.05},{"f":35.33,"p":-6.0},{"f":35.37,"p":-6.1},{"f":35.41,"p":-6.14},{"f":35.45,"p":-6.0},{"f":35.48,"p":-5.9},
      {"f":35.52,"p":-6.05},{"f":35.56,"p":-6.0},{"f":35.60,"p":-5.9},{"f":35.64,"p":-5.8},{"f":35.68,"p":-5.95},{"f":35.71,"p":-5.88},
      {"f":35.75,"p":-5.8},{"f":35.78,"p":-5.7},{"f":35.81,"p":-5.9},{"f":35.84,"p":-6.2},{"f":35.88,"p":-6.4},{"f":35.91,"p":-6.72},
      {"f":35.96,"p":-6.0},{"f":36.01,"p":-5.5},{"f":36.04,"p":-5.8},{"f":36.08,"p":-6.2},{"f":36.11,"p":-6.4},{"f":36.14,"p":-6.7},
      {"f":36.17,"p":-7.3},{"f":36.21,"p":-8.65},{"f":36.25,"p":-7.2},{"f":36.28,"p":-6.3},{"f":36.31,"p":-6.0},{"f":36.34,"p":-5.7},
      {"f":36.37,"p":-5.45},{"f":36.41,"p":-5.2},{"f":36.45,"p":-5.45},{"f":36.49,"p":-5.7},{"f":36.53,"p":-5.8},{"f":36.57,"p":-5.88},
      {"f":36.60,"p":-6.0},{"f":36.64,"p":-6.1},{"f":36.67,"p":-6.2},{"f":36.71,"p":-6.43},{"f":36.74,"p":-6.2},{"f":36.78,"p":-5.9},
      {"f":36.81,"p":-5.7},{"f":36.85,"p":-5.42},{"f":36.89,"p":-5.7},{"f":36.93,"p":-6.0},{"f":36.97,"p":-6.3},{"f":37.01,"p":-6.66},
      {"f":37.04,"p":-6.3},{"f":37.08,"p":-6.1},{"f":37.11,"p":-6.0},{"f":37.14,"p":-5.9},{"f":37.17,"p":-6.05},{"f":37.21,"p":-5.97},
      {"f":37.24,"p":-5.9},{"f":37.28,"p":-5.8},{"f":37.32,"p":-5.95},{"f":37.36,"p":-6.0},{"f":37.41,"p":-5.8},{"f":37.47,"p":-5.56},
      {"f":37.51,"p":-5.7},{"f":37.56,"p":-5.9},{"f":37.60,"p":-5.85},{"f":37.64,"p":-6.0},{"f":37.67,"p":-6.1},{"f":37.71,"p":-6.25},
      {"f":37.74,"p":-6.15},{"f":37.78,"p":-6.1},{"f":37.82,"p":-6.3},{"f":37.86,"p":-6.4},{"f":37.90,"p":-6.2},{"f":37.94,"p":-6.3},
      {"f":37.97,"p":-6.45},{"f":38.01,"p":-6.57},{"f":38.04,"p":-6.4},{"f":38.08,"p":-6.4},{"f":38.11,"p":-6.6},{"f":38.14,"p":-6.7},
      {"f":38.17,"p":-6.9},{"f":38.21,"p":-7.2},{"f":38.24,"p":-6.8},{"f":38.28,"p":-6.5},{"f":38.31,"p":-6.2},{"f":38.35,"p":-5.93},
      {"f":38.39,"p":-6.0},{"f":38.43,"p":-6.1},{"f":38.47,"p":-5.95},{"f":38.52,"p":-5.8},{"f":38.56,"p":-5.7},{"f":38.61,"p":-5.54},
      {"f":38.65,"p":-5.8},{"f":38.69,"p":-6.1},{"f":38.73,"p":-6.3},{"f":38.77,"p":-6.57},{"f":38.81,"p":-6.3},{"f":38.85,"p":-6.2},
      {"f":38.90,"p":-6.35},{"f":38.95,"p":-6.2},{"f":38.99,"p":-6.3},{"f":39.03,"p":-6.4},{"f":39.06,"p":-6.5},{"f":39.10,"p":-6.6},
      {"f":39.13,"p":-7.0},{"f":39.17,"p":-7.73},{"f":39.20,"p":-7.0},{"f":39.24,"p":-6.5},{"f":39.27,"p":-6.2},{"f":39.31,"p":-5.92},
      {"f":39.34,"p":-5.8},{"f":39.38,"p":-5.7},{"f":39.41,"p":-5.6},{"f":39.45,"p":-5.48},{"f":39.49,"p":-5.7},{"f":39.53,"p":-5.9},
      {"f":39.57,"p":-6.0},{"f":39.61,"p":-6.14},{"f":39.64,"p":-6.2},{"f":39.68,"p":-6.3},{"f":39.71,"p":-6.2},{"f":39.74,"p":-6.1},
      {"f":39.77,"p":-6.3},{"f":39.81,"p":-6.52},{"f":39.84,"p":-6.3},{"f":39.88,"p":-6.1},{"f":39.91,"p":-6.0},{"f":39.94,"p":-5.9},
      {"f":39.97,"p":-5.8},{"f":40.01,"p":-5.75},{"f":40.04,"p":-5.9},{"f":40.08,"p":-6.0},{"f":40.11,"p":-6.15},{"f":40.14,"p":-6.3},
      {"f":40.17,"p":-6.2},{"f":40.21,"p":-6.14},{"f":40.24,"p":-6.3},{"f":40.28,"p":-6.4},{"f":40.32,"p":-6.5},{"f":40.36,"p":-6.6},
      {"f":40.40,"p":-7.0},{"f":40.45,"p":-7.73},{"f":40.49,"p":-7.0},{"f":40.53,"p":-6.4},{"f":40.57,"p":-6.1},{"f":40.61,"p":-5.83},
      {"f":40.64,"p":-5.95},{"f":40.68,"p":-6.0},{"f":40.71,"p":-5.95},{"f":40.75,"p":-5.9},{"f":40.78,"p":-6.0},{"f":40.81,"p":-6.03},
      {"f":40.86,"p":-5.9},{"f":40.91,"p":-5.81},{"f":40.96,"p":-6.3},{"f":41.01,"p":-6.88},{"f":41.05,"p":-6.5},{"f":41.10,"p":-6.2},
      {"f":41.15,"p":-6.0},{"f":41.21,"p":-5.85},{"f":41.25,"p":-5.7},{"f":41.30,"p":-5.6},{"f":41.33,"p":-5.45},{"f":41.36,"p":-5.31},
      {"f":41.40,"p":-5.6},{"f":41.43,"p":-5.9},{"f":41.46,"p":-5.6},{"f":41.50,"p":-5.3},{"f":41.54,"p":-5.8},{"f":41.58,"p":-6.2},
      {"f":41.61,"p":-6.3},{"f":41.64,"p":-6.5},{"f":41.66,"p":-6.7},{"f":41.69,"p":-6.97},{"f":41.72,"p":-6.7},{"f":41.76,"p":-6.4},
      {"f":41.80,"p":-6.3},{"f":41.84,"p":-6.2},{"f":41.87,"p":-6.1},{"f":41.90,"p":-6.06},{"f":41.94,"p":-6.0},{"f":41.98,"p":-5.9},
      {"f":42.02,"p":-6.0},{"f":42.06,"p":-6.1},{"f":42.10,"p":-6.0},{"f":42.13,"p":-5.9},{"f":42.16,"p":-6.0},{"f":42.20,"p":-5.97},
      {"f":42.24,"p":-5.85},{"f":42.28,"p":-5.8},{"f":42.32,"p":-5.75},{"f":42.36,"p":-5.7},{"f":42.40,"p":-5.6},{"f":42.44,"p":-5.54},
      {"f":42.48,"p":-5.8},{"f":42.52,"p":-6.2},{"f":42.56,"p":-6.6},{"f":42.60,"p":-7.1},{"f":42.63,"p":-6.8},{"f":42.66,"p":-6.6},
      {"f":42.69,"p":-6.8},{"f":42.72,"p":-6.9},{"f":42.75,"p":-6.7},{"f":42.78,"p":-6.6},{"f":42.81,"p":-6.9},{"f":42.84,"p":-7.16},
      {"f":42.88,"p":-6.6},{"f":42.92,"p":-6.0},{"f":42.96,"p":-5.7},{"f":43.00,"p":-5.46},{"f":43.04,"p":-5.7},{"f":43.08,"p":-5.9},
      {"f":43.11,"p":-6.0},{"f":43.14,"p":-6.2},{"f":43.17,"p":-6.35},{"f":43.20,"p":-6.57},{"f":43.24,"p":-6.2},{"f":43.28,"p":-6.0},
      {"f":43.31,"p":-5.9},{"f":43.34,"p":-5.8},{"f":43.37,"p":-5.85},{"f":43.40,"p":-5.92},{"f":43.43,"p":-6.05},{"f":43.46,"p":-6.2},
      {"f":43.49,"p":-6.0},{"f":43.52,"p":-5.9},{"f":43.56,"p":-5.85},{"f":43.60,"p":-5.79},{"f":43.63,"p":-5.95},{"f":43.66,"p":-6.1},
      {"f":43.68,"p":-6.3},{"f":43.70,"p":-6.55},{"f":43.74,"p":-6.2},{"f":43.78,"p":-6.0},{"f":43.81,"p":-6.1},{"f":43.84,"p":-6.2},
      {"f":43.87,"p":-6.05},{"f":43.90,"p":-5.97},{"f":43.94,"p":-6.15},{"f":43.98,"p":-6.3},{"f":44.01,"p":-6.2},{"f":44.04,"p":-6.1},
      {"f":44.07,"p":-6.4},{"f":44.10,"p":-6.8},{"f":44.14,"p":-6.4},{"f":44.18,"p":-6.1},{"f":44.21,"p":-6.0},{"f":44.24,"p":-5.9},
      {"f":44.27,"p":-5.85},{"f":44.30,"p":-5.77},{"f":44.34,"p":-5.9},{"f":44.38,"p":-6.0},{"f":44.41,"p":-6.1},{"f":44.44,"p":-6.2},
      {"f":44.47,"p":-6.15},{"f":44.50,"p":-6.1},{"f":44.54,"p":-6.2},{"f":44.58,"p":-6.3},{"f":44.61,"p":-6.4},{"f":44.64,"p":-6.5},
      {"f":44.67,"p":-6.7},{"f":44.70,"p":-7.06},{"f":44.74,"p":-6.5},{"f":44.77,"p":-6.0},{"f":44.80,"p":-5.6},{"f":44.84,"p":-5.28},
      {"f":44.88,"p":-5.4},{"f":44.92,"p":-5.5},{"f":44.96,"p":-5.6},{"f":45.00,"p":-5.7},{"f":45.05,"p":-5.6},{"f":45.10,"p":-5.57},
      {"f":45.14,"p":-5.7},{"f":45.18,"p":-5.8},{"f":45.22,"p":-5.75},{"f":45.26,"p":-5.7},{"f":45.30,"p":-5.8},{"f":45.34,"p":-5.9},
      {"f":45.37,"p":-5.95},{"f":45.40,"p":-5.85},{"f":45.44,"p":-6.0},{"f":45.48,"p":-6.1},{"f":45.52,"p":-6.0},{"f":45.56,"p":-6.2},
      {"f":45.60,"p":-6.3},{"f":45.64,"p":-6.43},{"f":45.68,"p":-6.2},{"f":45.72,"p":-6.0},{"f":45.75,"p":-6.05},{"f":45.78,"p":-6.1},
      {"f":45.81,"p":-6.0},{"f":45.84,"p":-5.93},{"f":45.88,"p":-6.0},{"f":45.92,"p":-6.1},{"f":45.96,"p":-6.0},{"f":46.00,"p":-5.9},
      {"f":46.05,"p":-6.0},{"f":46.10,"p":-5.92},{"f":46.14,"p":-6.05},{"f":46.18,"p":-6.2},{"f":46.21,"p":-6.1},{"f":46.24,"p":-6.0},
      {"f":46.27,"p":-6.2},{"f":46.30,"p":-6.5},{"f":46.34,"p":-6.3},{"f":46.38,"p":-6.2},{"f":46.42,"p":-6.3},{"f":46.46,"p":-6.4},
      {"f":46.51,"p":-6.6},{"f":46.56,"p":-6.95},{"f":46.60,"p":-6.6},{"f":46.64,"p":-6.3},{"f":46.67,"p":-6.1},{"f":46.70,"p":-6.0},
      {"f":46.73,"p":-5.95},{"f":46.76,"p":-5.88},{"f":46.80,"p":-5.8},{"f":46.84,"p":-5.7},{"f":46.87,"p":-5.6},{"f":46.90,"p":-5.57},
      {"f":46.94,"p":-5.8},{"f":46.97,"p":-6.1},{"f":47.00,"p":-6.3},{"f":47.04,"p":-6.45},{"f":47.07,"p":-6.6},{"f":47.10,"p":-6.7},
      {"f":47.12,"p":-7.0},{"f":47.15,"p":-7.61},{"f":47.18,"p":-7.0},{"f":47.22,"p":-6.5},{"f":47.25,"p":-6.2},{"f":47.28,"p":-6.0},
      {"f":47.31,"p":-5.9},{"f":47.35,"p":-5.83},{"f":47.38,"p":-5.75},{"f":47.42,"p":-5.7},{"f":47.45,"p":-5.85},{"f":47.48,"p":-5.9},
      {"f":47.52,"p":-5.7},{"f":47.56,"p":-5.46},{"f":47.60,"p":-5.8},{"f":47.63,"p":-6.2},{"f":47.66,"p":-6.4},{"f":47.70,"p":-6.64},
      {"f":47.74,"p":-7.2},{"f":47.78,"p":-8.12},{"f":47.81,"p":-7.4},{"f":47.84,"p":-7.0},{"f":47.87,"p":-6.9},{"f":47.90,"p":-6.8},
      {"f":47.92,"p":-6.9},{"f":47.95,"p":-6.99},{"f":47.98,"p":-6.8},{"f":48.02,"p":-6.7},{"f":48.05,"p":-6.9},{"f":48.08,"p":-7.0},
      {"f":48.12,"p":-7.2},{"f":48.16,"p":-7.45},{"f":48.20,"p":-6.8},{"f":48.23,"p":-6.4},{"f":48.26,"p":-6.1},{"f":48.30,"p":-5.85},
      {"f":48.33,"p":-5.7},{"f":48.37,"p":-5.5},{"f":48.40,"p":-5.4},{"f":48.44,"p":-5.26},{"f":48.48,"p":-5.4},{"f":48.52,"p":-5.5},
      {"f":48.55,"p":-5.6},{"f":48.58,"p":-5.7},{"f":48.61,"p":-5.65},{"f":48.64,"p":-5.57},{"f":48.68,"p":-5.75},{"f":48.72,"p":-5.9},
      {"f":48.76,"p":-6.0},{"f":48.80,"p":-6.03},{"f":48.84,"p":-5.95},{"f":48.88,"p":-5.9},{"f":48.91,"p":-5.85},{"f":48.95,"p":-5.83},
      {"f":48.98,"p":-5.9},{"f":49.02,"p":-6.0},{"f":49.06,"p":-6.05},{"f":49.10,"p":-6.1},{"f":49.14,"p":-5.95},{"f":49.18,"p":-5.8},
      {"f":49.22,"p":-5.7},{"f":49.26,"p":-5.6},{"f":49.30,"p":-5.45},{"f":49.34,"p":-5.34},{"f":49.37,"p":-5.6},{"f":49.40,"p":-5.9},
      {"f":49.44,"p":-6.0},{"f":49.48,"p":-6.1},{"f":49.51,"p":-6.5},{"f":49.54,"p":-6.95},{"f":49.57,"p":-6.5},{"f":49.60,"p":-6.1},
      {"f":49.63,"p":-6.0},{"f":49.66,"p":-5.9},{"f":49.69,"p":-5.85},{"f":49.72,"p":-5.83},{"f":49.75,"p":-5.9},{"f":49.78,"p":-6.0},
      {"f":49.81,"p":-5.9},{"f":49.84,"p":-5.8},{"f":49.87,"p":-5.85},{"f":49.90,"p":-5.9},{"f":49.93,"p":-5.8},{"f":49.96,"p":-5.85},
      {"f":50.00,"p":-5.88}
    ]
  },
  "mark": {"type": "line", "color": "black", "strokeWidth": 3, "strokeJoin": "miter", "strokeMiterLimit": 2, "clip": true},
  "encoding": {
    "x": {
      "field": "f",
      "type": "quantitative",
      "scale": {"domain": [0, 50], "nice": false, "zero": false},
      "axis": {
        "orient": "top",
        "values": [0, 5, 10, 15, 20, 25, 30, 35, 40, 45, 50],
        "title": "FREQUENCY (HZ)",
        "titleFont": "DejaVu Sans Mono",
        "titleFontSize": 24,
        "titleFontWeight": "normal",
        "titleColor": "black",
        "titleX": 400,
        "titleY": -48,
        "titleAlign": "center",
        "titleBaseline": "alphabetic",
        "domain": false,
        "grid": false,
        "ticks": true,
        "tickSize": -8,
        "tickWidth": 2,
        "tickColor": "black",
        "labelFont": "DejaVu Sans Mono",
        "labelFontSize": 24,
        "labelColor": "black",
        "labelPadding": 23,
        "labelBaseline": "alphabetic",
        "labelFlush": false,
        "labelOverlap": false
      }
    },
    "y": {
      "field": "p",
      "type": "quantitative",
      "scale": {"domain": [-10, -4], "nice": false, "zero": false},
      "axis": {
        "orient": "left",
        "values": [-10, -9, -8, -7, -6, -5, -4],
        "labelExpr": "replace(datum.label, '−', '-')",
        "title": ["POWER SPECTRAL DENSITY", "( LOG(MV^2/HZ) )"],
        "titleFont": "DejaVu Sans Mono",
        "titleFontSize": 26,
        "titleFontWeight": "normal",
        "titleColor": "black",
        "titleLineHeight": 31,
        "titleAngle": -90,
        "titleX": -97,
        "titleY": 220,
        "titleAlign": "center",
        "titleBaseline": "bottom",
        "domain": false,
        "grid": false,
        "ticks": true,
        "tickSize": -8,
        "tickWidth": 2,
        "tickColor": "black",
        "labelFont": "DejaVu Sans Mono",
        "labelFontSize": 24,
        "labelColor": "black",
        "labelAlign": "left",
        "labelBaseline": "middle",
        "labelPadding": 57,
        "labelFlush": false,
        "labelOverlap": false
      }
    }
  }
}
